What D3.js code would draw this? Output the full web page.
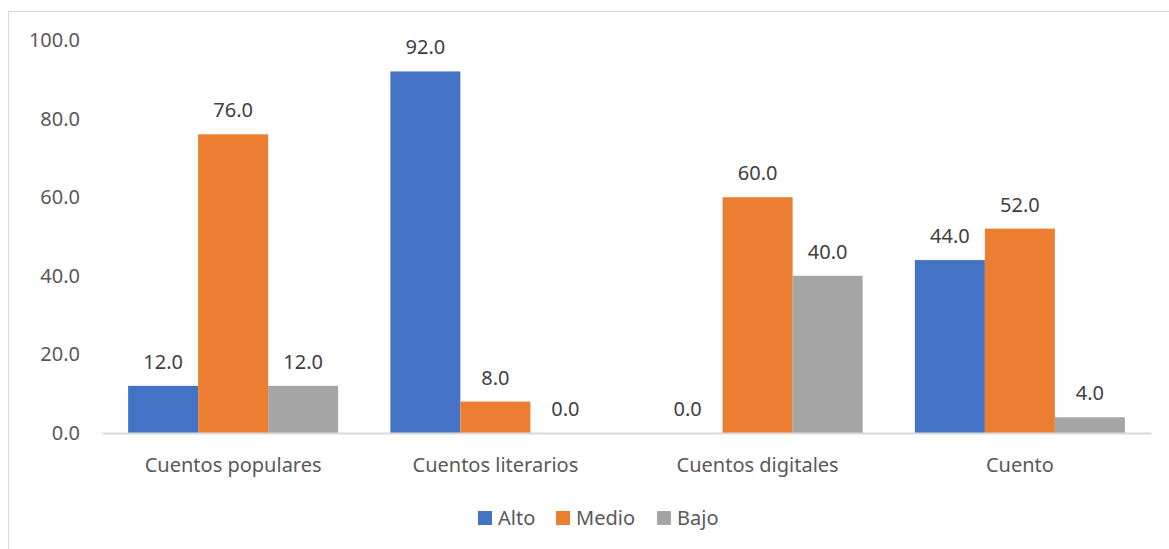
<!DOCTYPE html>
<html>
<head>
<meta charset="utf-8">
<script src="https://cdn.jsdelivr.net/npm/d3@7"></script>
<style>
	body { margin: 0; background: #fff; }
	text { font-family: "Noto Sans", "Open Sans", sans-serif; fill: #595959; }
</style>
</head>
<body>
<svg id="chart" width="1169" height="549"></svg>
<script>
var categories = ["Cuentos populares", "Cuentos literarios", "Cuentos digitales", "Cuento"];
var seriesNames = ["Alto", "Medio", "Bajo"];
var alto = [12.0, 92.0, 0.0, 44.0];
var medio = [76.0, 8.0, 60.0, 52.0];
var bajo = [12.0, 0.0, 40.0, 4.0];
var yTicks = [0, 20, 40, 60, 80, 100];
var colors = ["#4472C4", "#ED7D31", "#A5A5A5"];

var values = [alto, medio, bajo];
var data = categories.map(function(c, i) {
	return { cat: c, vals: seriesNames.map(function(s, j) { return { name: s, v: values[j][i], k: j }; }) };
});

var svg = d3.select("#chart");
var fontSize = "20px";

// outer frame
svg.append("rect")
	.attr("x", 8.5).attr("y", 11.5)
	.attr("width", 1200).attr("height", 600)
	.attr("fill", "none").attr("stroke", "#D9D9D9").attr("stroke-width", 1);

var plotLeft = 102, plotRight = 1151, plotTop = 40, plotBottom = 433;

var x0 = d3.scaleBand().domain(categories).range([plotLeft, plotRight]);
var gap = x0.bandwidth() - 210;
var x1 = d3.scaleBand().domain(seriesNames).range([gap / 2, x0.bandwidth() - gap / 2]);
var y = d3.scaleLinear().domain([0, 100]).range([plotBottom, plotTop]);

// y axis labels
var yAxis = svg.append("g")
	.attr("transform", "translate(" + 80 + ",0)")
	.call(d3.axisLeft(y).tickValues(yTicks).tickSize(0).tickPadding(0).tickFormat(d3.format(".1f")));
yAxis.select(".domain").remove();
yAxis.selectAll("text").style("font-size", fontSize).attr("fill", "#595959").style("font-family", "\"Noto Sans\", sans-serif");

var groups = svg.selectAll(".grp")
	.data(data)
	.enter().append("g")
	.attr("class", "grp")
	.attr("transform", function(d) { return "translate(" + x0(d.cat) + ",0)"; });

groups.selectAll("rect")
	.data(function(d) { return d.vals; })
	.enter().append("rect")
	.attr("x", function(d) { return x1(d.name); })
	.attr("y", function(d) { return y(d.v); })
	.attr("width", x1.bandwidth())
	.attr("height", function(d) { return plotBottom - y(d.v); })
	.attr("fill", function(d) { return colors[d.k]; });

groups.selectAll(".lbl")
	.data(function(d) { return d.vals; })
	.enter().append("text")
	.attr("class", "lbl")
	.attr("x", function(d) { return x1(d.name) + x1.bandwidth() / 2; })
	.attr("y", function(d) { return y(d.v) - 17; })
	.attr("text-anchor", "middle")
	.style("font-size", fontSize)
	.style("fill", "#404040")
	.text(function(d) { return d3.format(".1f")(d.v); });

// x axis
var xAxis = svg.append("g")
	.attr("transform", "translate(0," + plotBottom + ")")
	.call(d3.axisBottom(x0).tickSize(0).tickPadding(25));
xAxis.select(".domain").attr("stroke", "#D9D9D9").attr("stroke-width", 2);
xAxis.selectAll("text").style("font-size", fontSize).attr("fill", "#595959").style("font-family", "\"Noto Sans\", sans-serif");

// legend
var legendX = [478, 556, 657];
var legend = svg.selectAll(".leg")
	.data(seriesNames)
	.enter().append("g")
	.attr("class", "leg")
	.attr("transform", function(d, i) { return "translate(" + legendX[i] + ",511)"; });
legend.append("rect").attr("width", 14).attr("height", 14).attr("fill", function(d, i) { return colors[i]; });
legend.append("text").attr("x", 20).attr("y", 7).attr("dy", "0.35em")
	.style("font-size", fontSize).text(function(d) { return d; });
</script>
</body>
</html>
